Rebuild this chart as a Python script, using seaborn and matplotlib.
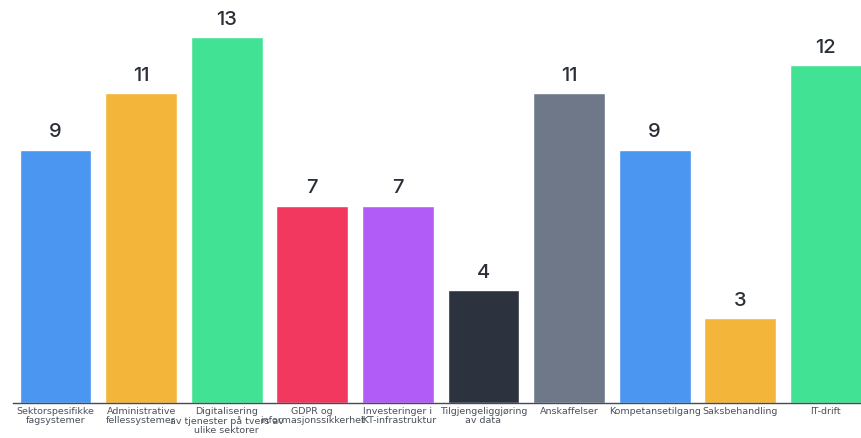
import matplotlib
matplotlib.use("Agg")
import matplotlib.pyplot as plt
import seaborn as sns
import pandas as pd

categories = [
    "Sektorspesifikke\nfagsystemer",
    "Administrative\nfellessystemer",
    "Digitalisering\nav tjenester på tvers av\nulike sektorer",
    "GDPR og\ninformasjonssikkerhet",
    "Investeringer i\nIKT-infrastruktur",
    "Tilgjengeliggjøring\nav data",
    "Anskaffelser",
    "Kompetansetilgang",
    "Saksbehandling",
    "IT-drift",
]
values = [9, 11, 13, 7, 7, 4, 11, 9, 3, 12]
colors = ["#4A96F0", "#F3B63B", "#42E294", "#F2385E", "#B15CF6",
          "#2C333F", "#6F7889", "#4A96F0", "#F3B63B", "#42E294"]

sns.set_theme(style="white")
plt.rcParams["font.family"] = ["Inter", "DejaVu Sans"]

df = pd.DataFrame({"kategori": categories, "antall": values})

fig = plt.figure(figsize=(8.61, 4.38), dpi=100)
ax = fig.add_axes([0.0148, 0.081, 0.994, 0.919])

sns.barplot(data=df, x="kategori", y="antall", hue="kategori",
            palette=colors, legend=False, width=0.84, saturation=1,
            ax=ax)

ax.set_xlim(-0.5, 9.5)
ax.set_ylim(0, 14.32)
ax.set_xlabel("")
ax.set_ylabel("")
ax.set_yticks([])
ax.tick_params(axis="x", length=0, pad=3, labelcolor="#4a505b")
for lbl in ax.get_xticklabels():
    lbl.set_fontfamily("DejaVu Sans")
    lbl.set_fontsize(6.8)
    lbl.set_linespacing(1.0)

for side in ["top", "right", "left"]:
    ax.spines[side].set_visible(False)
ax.spines["bottom"].set_color("#444b57")
ax.spines["bottom"].set_linewidth(1.0)

for i, v in enumerate(values):
    ax.annotate(str(v), (i, v), xytext=(0, 6), textcoords="offset points",
                ha="center", va="bottom", fontsize=14.5, fontweight="medium",
                color="#2a2f38")

fig.savefig("out.png", dpi=100)
